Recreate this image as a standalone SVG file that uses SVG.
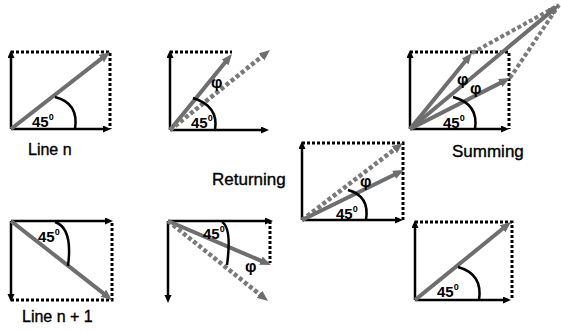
<svg xmlns="http://www.w3.org/2000/svg" width="561" height="332" viewBox="0 0 561 332">
<defs>
<style>
.ax{stroke:#000;stroke-width:2.5;fill:none;marker-end:url(#hb)}
.dot{stroke:#000;stroke-width:3;stroke-dasharray:3 2;fill:none}
.gv{stroke:#6e6e6e;stroke-width:4;fill:none;marker-end:url(#hg)}
.gd{stroke:#7a7a7a;stroke-width:4.5;stroke-dasharray:4 2.5;fill:none;marker-end:url(#hg)}
.gdl{stroke:#7a7a7a;stroke-width:4;stroke-dasharray:4 2.5;fill:none}
.arc{stroke:#000;stroke-width:2.5;fill:none}
text{font-family:"Liberation Sans",Arial,sans-serif;fill:#000}
.lbl{font-size:16px;stroke:#000;stroke-width:0.35}
.lbl2{font-size:17px;stroke:#000;stroke-width:0.35}
.ang{font-size:15px;font-weight:bold}
.sup{font-size:9px}
.phi{font-size:16px;font-weight:bold}
</style>
<marker id="hb" markerUnits="userSpaceOnUse" markerWidth="9" markerHeight="8" refX="2" refY="3.5" orient="auto">
<path d="M0,0 L8,3.5 L0,7 z" fill="#000"/>
</marker>
<marker id="hg" markerUnits="userSpaceOnUse" markerWidth="12" markerHeight="10" refX="3" refY="4.5" orient="auto">
<path d="M0,0 L11,4.5 L0,9 z" fill="#6e6e6e"/>
</marker>
</defs>
<rect width="561" height="332" fill="#fff"/>

<g id="line-n">
<path class="dot" d="M11,52 H110 V129"/>
<line class="ax" x1="11" y1="129" x2="11" y2="56"/>
<line class="ax" x1="11" y1="129" x2="105" y2="129"/>
<line class="gv" x1="11" y1="129" x2="103.7" y2="56.9"/>
<path class="arc" d="M55,97 Q79,103 75,129"/>
<text class="ang" x="32" y="127">45<tspan class="sup" dy="-7">0</tspan></text>
<text class="lbl" x="28" y="155">Line n</text>
</g>

<g id="line-n-shift">
<path class="dot" d="M170,52 H232"/>
<line class="ax" x1="170" y1="130" x2="170" y2="56"/>
<line class="ax" x1="170" y1="130" x2="263" y2="130"/>
<line class="gv" x1="170" y1="130" x2="226.9" y2="60.2"/>
<line class="gd" x1="170" y1="130" x2="263.8" y2="55"/>
<path class="arc" d="M193,98 Q219,106 215,130"/>
<text class="phi" x="211" y="88">φ</text>
<text class="ang" x="191" y="128">45<tspan class="sup" dy="-7">0</tspan></text>
</g>

<g id="summing">
<path class="dot" d="M410,52 H509 V129"/>
<line class="gdl" x1="472" y1="53" x2="559" y2="5"/>
<line class="gdl" x1="510" y1="78" x2="559" y2="5"/>
<line class="ax" x1="410" y1="129" x2="410" y2="56"/>
<line class="ax" x1="410" y1="129" x2="503" y2="129"/>
<line class="gv" x1="410" y1="129" x2="466.9" y2="59.2"/>
<line class="gv" x1="410" y1="129" x2="502.9" y2="81.6"/>
<line class="gv" x1="410" y1="129" x2="552.8" y2="10.1"/>
<path class="arc" d="M453,97 Q479,104 475,129"/>
<text class="phi" x="457" y="85">φ</text>
<text class="phi" x="470" y="94">φ</text>
<text class="ang" x="443" y="128">45<tspan class="sup" dy="-7">0</tspan></text>
<text class="lbl2" x="452" y="157">Summing</text>
</g>

<g id="returning">
<path class="dot" d="M302,143 H403 V220"/>
<line class="ax" x1="302" y1="220" x2="302" y2="147"/>
<line class="ax" x1="302" y1="220" x2="397" y2="220"/>
<line class="gd" x1="302" y1="220" x2="396.6" y2="147.8"/>
<line class="gv" x1="302" y1="220" x2="396.8" y2="173.5"/>
<path class="arc" d="M348,190 Q370,196 366,220"/>
<text class="phi" x="360" y="187">φ</text>
<text class="ang" x="336" y="219">45<tspan class="sup" dy="-7">0</tspan></text>
<text class="lbl2" x="212" y="185">Returning</text>
</g>

<g id="line-n1">
<path class="dot" d="M11,300 H112 V221"/>
<line class="ax" x1="11" y1="221" x2="107" y2="221"/>
<line class="ax" x1="11" y1="221" x2="11" y2="296"/>
<line class="gv" x1="11" y1="221" x2="105.7" y2="295.1"/>
<path class="arc" d="M55,222 Q73,228 68,266"/>
<text class="ang" x="38" y="242">45<tspan class="sup" dy="-7">0</tspan></text>
<text class="lbl" x="22" y="322">Line n + 1</text>
</g>

<g id="line-n1-shift">
<path class="dot" d="M270,221 V263"/>
<line class="ax" x1="168" y1="221" x2="267" y2="221"/>
<line class="ax" x1="168" y1="221" x2="168" y2="297"/>
<line class="gv" x1="168" y1="221" x2="263.6" y2="261.9"/>
<line class="gd" x1="168" y1="221" x2="261.8" y2="296"/>
<path class="arc" d="M222,222 Q232,228 227,265"/>
<text class="ang" x="203" y="239">45<tspan class="sup" dy="-7">0</tspan></text>
<text class="phi" x="245" y="272">φ</text>
</g>

<g id="result">
<path class="dot" d="M415,222 H512 V300"/>
<line class="ax" x1="415" y1="300" x2="415" y2="226"/>
<line class="ax" x1="415" y1="300" x2="505" y2="300"/>
<line class="gv" x1="415" y1="300" x2="504.8" y2="227"/>
<path class="arc" d="M458,267 Q483,274 479,300"/>
<text class="ang" x="437" y="297">45<tspan class="sup" dy="-7">0</tspan></text>
</g>
</svg>
